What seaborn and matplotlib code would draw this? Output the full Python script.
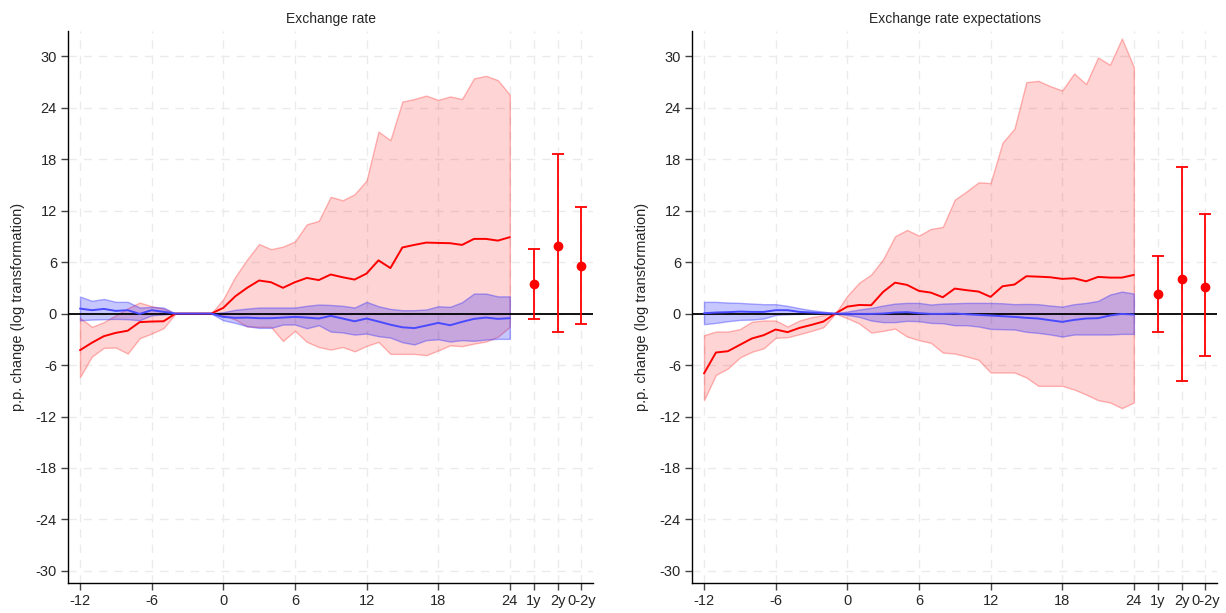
import numpy as np
import pandas as pd
import matplotlib
matplotlib.use("Agg")
import matplotlib.pyplot as plt
import seaborn as sns

months = list(range(-12, 25))
xtick_pos = [-12, -6, 0, 6, 12, 18, 24, 26, 28, 30]
xtick_labels = ["-12", "-6", "0", "6", "12", "18", "24", "1y", "2y", "0-2y"]
ytick_vals = [-30, -24, -18, -12, -6, 0, 6, 12, 18, 24, 30]
bar_pos = [26, 28, 30]
titles = ["Exchange rate", "Exchange rate expectations"]

# ---- Left panel: Exchange rate ----
l_red = [-4.27, -3.4, -2.64, -2.25, -2.0, -1.0, -0.93, -0.9, 0, 0, 0, 0,
         0.66, 2.0, 3.0, 3.85, 3.65, 3.0, 3.65, 4.15, 3.9, 4.55, 4.23, 3.96, 4.66,
         6.2, 5.3, 7.7, 8.0, 8.27, 8.23, 8.2, 8.0, 8.7, 8.7, 8.5, 8.9]
l_red_hi = [-0.5, -1.55, -1.0, -0.2, 0.6, 1.28, 0.85, 0.58, 0, 0, 0, 0,
            1.67, 4.27, 6.3, 8.1, 7.5, 7.8, 8.4, 10.4, 10.8, 13.6, 13.2, 13.9, 15.5,
            21.2, 20.2, 24.7, 25.0, 25.4, 24.9, 25.3, 25.0, 27.4, 27.7, 27.2, 25.5]
l_red_lo = [-7.4, -5.0, -4.0, -3.96, -4.66, -2.87, -2.33, -1.7, 0, 0, 0, 0,
            -0.2, -0.7, -1.5, -1.55, -1.55, -3.2, -2.0, -3.3, -3.9, -4.2, -3.9, -4.4, -3.77,
            -3.3, -4.7, -4.7, -4.7, -4.85, -4.3, -3.7, -3.8, -3.5, -3.26, -2.7, -1.55]
l_blue = [0.58, 0.39, 0.54, 0.31, 0.39, -0.04, 0.39, 0.2, 0, 0, 0, 0,
          -0.39, -0.5, -0.47, -0.54, -0.54, -0.47, -0.39, -0.47, -0.58, -0.27, -0.58, -0.9, -0.58,
          -0.93, -1.3, -1.6, -1.7, -1.4, -1.09, -1.36, -0.97, -0.62, -0.47, -0.62, -0.54]
l_blue_hi = [1.98, 1.48, 1.7, 1.36, 1.36, 0.7, 0.78, 0.7, 0, 0, 0, 0,
             0.16, 0.43, 0.58, 0.7, 0.7, 0.7, 0.7, 0.9, 1.05, 1.0, 0.9, 0.7, 1.36,
             0.85, 0.54, 0.39, 0.39, 0.47, 0.85, 0.78, 1.32, 2.33, 2.33, 2.0, 2.0]
l_blue_lo = [-0.78, -0.7, -0.66, -0.62, -0.66, -0.78, -0.2, -0.1, 0, 0, 0, 0,
             -0.78, -1.09, -1.48, -1.67, -1.67, -1.28, -1.28, -1.71, -1.36, -2.1, -2.2, -2.45, -2.33,
             -2.64, -2.8, -3.34, -3.6, -3.1, -3.0, -3.26, -3.1, -3.18, -3.03, -2.95, -2.95]
l_pt = [3.49, 7.86, 5.58]
l_pt_lo = [-0.58, -2.17, -1.16]
l_pt_hi = [7.5, 18.56, 12.44]

# ---- Right panel: Exchange rate expectations ----
r_red = [-6.98, -4.54, -4.39, -3.65, -2.91, -2.52, -1.86, -2.17, -1.67, -1.32, -0.93, 0,
         0.81, 1.0, 0.97, 2.52, 3.6, 3.34, 2.64, 2.44, 1.9, 2.91, 2.72, 2.56, 1.94,
         3.18, 3.38, 4.35, 4.3, 4.23, 4.04, 4.11, 3.76, 4.27, 4.19, 4.19, 4.5]
r_red_hi = [-2.52, -2.1, -2.1, -1.82, -0.97, -0.81, -0.81, -1.51, -0.81, -0.43, -0.19, 0,
            2.06, 3.6, 4.54, 6.33, 9.0, 9.74, 9.08, 9.86, 10.09, 13.27, 14.24, 15.29, 15.2,
            19.9, 21.54, 26.97, 27.12, 26.5, 26.0, 27.98, 26.74, 29.84, 28.99, 32.05, 28.72]
r_red_lo = [-10.09, -7.14, -6.4, -5.12, -4.46, -4.04, -2.83, -2.76, -2.4, -2.02, -1.59, 0,
            -0.54, -1.16, -2.21, -2.02, -1.75, -2.68, -3.1, -3.41, -4.54, -4.66, -5.0, -5.39, -6.87,
            -6.87, -6.87, -7.45, -8.42, -8.42, -8.42, -8.85, -9.43, -10.09, -10.36, -11.02, -10.36]
r_blue = [0.04, 0.12, 0.16, 0.23, 0.19, 0.19, 0.39, 0.39, 0.19, 0.12, 0.04, 0,
          -0.04, -0.04, -0.04, 0, 0.12, 0.16, 0.04, -0.04, -0.04, 0, -0.08, -0.16, -0.23,
          -0.31, -0.39, -0.5, -0.58, -0.78, -0.97, -0.74, -0.58, -0.54, -0.23, -0.04, -0.12]
r_blue_hi = [1.36, 1.36, 1.28, 1.24, 1.16, 1.09, 1.09, 0.89, 0.62, 0.39, 0.23, 0,
             0.23, 0.47, 0.66, 0.93, 1.16, 1.24, 1.24, 1.05, 1.16, 1.2, 1.24, 1.24, 1.24,
             1.2, 1.09, 1.12, 1.09, 0.93, 0.81, 1.09, 1.24, 1.47, 2.21, 2.56, 2.33]
r_blue_lo = [-1.24, -1.09, -0.89, -0.74, -0.7, -0.58, -0.16, -0.08, -0.04, 0, 0, 0,
             -0.16, -0.39, -0.81, -1.0, -1.0, -0.85, -0.89, -1.09, -1.13, -1.36, -1.36, -1.51, -1.79,
             -1.82, -1.86, -2.13, -2.25, -2.44, -2.68, -2.44, -2.44, -2.44, -2.44, -2.37, -2.37]
r_pt = [2.24, 4.02, 3.1]
r_pt_lo = [-2.14, -7.84, -4.93]
r_pt_hi = [6.74, 17.09, 11.58]

sns.set_style("white")
plt.rcParams['font.family'] = ['Liberation Sans', 'DejaVu Sans']
plt.rcParams['axes.unicode_minus'] = False

fig = plt.figure(figsize=(12.26, 6.13), dpi=100)
ax_l = fig.add_axes([0.0555, 0.049, 0.4285, 0.90])
ax_r = fig.add_axes([0.5645, 0.049, 0.4285, 0.90])

panels = [
    (ax_l, l_red, l_red_lo, l_red_hi, l_blue, l_blue_lo, l_blue_hi, l_pt, l_pt_lo, l_pt_hi),
    (ax_r, r_red, r_red_lo, r_red_hi, r_blue, r_blue_lo, r_blue_hi, r_pt, r_pt_lo, r_pt_hi),
]

for i, (ax, red, red_lo, red_hi, blue, blue_lo, blue_hi, pt, pt_lo, pt_hi) in enumerate(panels):
    ax.set_xlim(-13, 31)
    ax.set_ylim(-31.4, 32.9)
    # grid
    for xv in xtick_pos:
        ax.axvline(xv, color="#ebebeb", lw=1.0, ls=(0, (6, 5)), zorder=0)
    for yv in ytick_vals:
        ax.axhline(yv, color="#ebebeb", lw=1.0, ls=(0, (6, 5)), zorder=0)
    # bands
    ax.fill_between(months, red_lo, red_hi, facecolor=(1, 0, 0, 0.17),
                    edgecolor=(1, 0.2, 0.2, 0.35), lw=1.0, zorder=1)
    ax.fill_between(months, blue_lo, blue_hi, facecolor=(0, 0, 1, 0.22),
                    edgecolor=(0.2, 0.2, 1, 0.4), lw=1.0, zorder=2)
    ax.axhline(0, color="black", lw=1.3, zorder=3)
    df = pd.DataFrame({
        "month": months * 2,
        "value": list(red) + list(blue),
        "series": ["red"] * len(months) + ["blue"] * len(months),
    })
    sns.lineplot(data=df, x="month", y="value", hue="series",
                 palette={"red": "#ff0000", "blue": "#4a4aff"},
                 lw=1.4, ax=ax, legend=False, zorder=4, errorbar=None)
    # point estimates with intervals
    pt_a = np.array(pt)
    yerr = np.vstack([pt_a - np.array(pt_lo), np.array(pt_hi) - pt_a])
    ax.errorbar(bar_pos, pt, yerr=yerr, fmt="o", color="#ff0000", ms=6,
                capsize=4, elinewidth=1.3, capthick=1.3, zorder=5)
    ax.set_xticks(xtick_pos)
    ax.set_xticklabels(xtick_labels)
    ax.set_yticks(ytick_vals)
    ax.set_yticklabels([str(v) for v in ytick_vals])
    ax.tick_params(axis="both", direction="out", length=5, width=1, color="#444444",
                   labelsize=10.5, pad=3, bottom=True, left=True)
    for s in ["top", "right"]:
        ax.spines[s].set_visible(False)
    for s in ["left", "bottom"]:
        ax.spines[s].set_color("black")
        ax.spines[s].set_linewidth(1.0)
    ax.set_xlabel("")
    ax.set_ylabel("p.p. change (log transformation)", fontsize=10.5, labelpad=8)
    ax.set_title(titles[i], fontsize=10, pad=6)

fig.savefig("out.png", dpi=100)
